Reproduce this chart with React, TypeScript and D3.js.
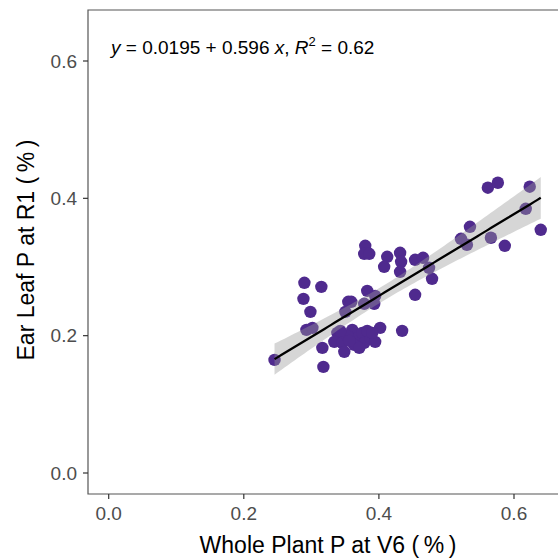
import React from "react";
import * as d3 from "d3";

const wholePlantP: number[] = [
  0.2455, 0.2897, 0.3148, 0.2883, 0.2986, 0.2927, 0.3016, 0.3163, 0.3178,
  0.3547, 0.3503, 0.3798, 0.3783, 0.3857, 0.4123, 0.4078, 0.4314, 0.4329, 0.4314,
  0.4536, 0.4654, 0.4742, 0.4787, 0.3827, 0.3945, 0.3591, 0.3783, 0.3931, 0.4536,
  0.4019, 0.4344,
  0.3385, 0.3340, 0.3458, 0.3488, 0.3606, 0.3680, 0.3754, 0.3783, 0.3872, 0.3945,
  0.3635, 0.3532, 0.3827, 0.3709, 0.3429, 0.3901, 0.3562,
  0.5613, 0.5761, 0.6233, 0.6174, 0.6396, 0.5348, 0.5215, 0.5303, 0.5658, 0.5864,
];
const earLeafP: number[] = [
  0.1647, 0.2770, 0.2711, 0.2536, 0.2347, 0.2085, 0.2114, 0.1822, 0.1545,
  0.2493, 0.2347, 0.3309, 0.3192, 0.3192, 0.3149, 0.3003, 0.3207, 0.3076, 0.2930,
  0.3105, 0.3134, 0.2988, 0.2828, 0.2653, 0.2580, 0.2493, 0.2464, 0.2464, 0.2595,
  0.2114, 0.2070,
  0.2041, 0.1910, 0.1895, 0.1764, 0.2085, 0.1968, 0.2041, 0.1895, 0.1968, 0.1910,
  0.1866, 0.1997, 0.2070, 0.1822, 0.2070, 0.2041, 0.1924,
  0.4155, 0.4227, 0.4169, 0.3848, 0.3542, 0.3586, 0.3411, 0.3324, 0.3426, 0.3309,
];
const fitCoef: number[] = [0.0195, 0.596]; // intercept, slope
const r2Label = "0.62";
const xTicks: number[] = [0.0, 0.2, 0.4, 0.6];
const yTicks: number[] = [0.0, 0.2, 0.4, 0.6];

export default function App() {
  const W = 558, H = 560;
  const panel = { left: 88, top: 10, right: 571, bottom: 494 };
  const x = d3.scaleLinear().domain([0, 0.6]).range([108.7, 514]);
  const y = d3.scaleLinear().domain([0, 0.6]).range([473, 61]);

  const n = wholePlantP.length;
  const xm = d3.mean(wholePlantP) as number;
  const sxx = d3.sum(wholePlantP, (v) => (v - xm) ** 2);
  const pred = (v: number) => fitCoef[0] + fitCoef[1] * v;
  const sse = d3.sum(wholePlantP, (v, i) => (earLeafP[i] - pred(v)) ** 2);
  const s = Math.sqrt(sse / (n - 2));
  const tq = 2.003;
  const [xmin, xmax] = d3.extent(wholePlantP) as [number, number];
  const grid = d3.range(0, 81).map((i) => xmin + ((xmax - xmin) * i) / 80);
  const band = grid.map((v) => {
    const se = s * Math.sqrt(1 / n + (v - xm) ** 2 / sxx);
    return { x: v, lo: pred(v) - tq * se, hi: pred(v) + tq * se, m: pred(v) };
  });
  const area = d3
    .area<any>()
    .x((d) => x(d.x))
    .y0((d) => y(d.lo))
    .y1((d) => y(d.hi))(band) as string;
  const line = d3
    .line<any>()
    .x((d) => x(d.x))
    .y((d) => y(d.m))(band) as string;

  const font = "'Liberation Sans', Arial, sans-serif";
  const tickColor = "#4d4d4d";

  return (
    <svg
      width={W}
      height={H}
      style={{ position: "absolute", left: 0, top: 0, background: "#fff" }}
      fontFamily={font}
    >
      <rect x={0} y={0} width={W} height={H} fill="#fff" />
      {wholePlantP.map((v, i) => (
        <circle key={i} cx={x(v)} cy={y(earLeafP[i])} r={6.2} fill="#4f2a8e" />
      ))}
      <path d={area} fill="#999999" fillOpacity={0.4} />
      <path d={line} fill="none" stroke="#000" strokeWidth={2.3} />

      <text x={111} y={54} fontSize={19} fill="#000">
        <tspan fontStyle="italic">y</tspan>
        <tspan> = 0.0195</tspan>
        <tspan> + </tspan>
        <tspan>0.596 </tspan>
        <tspan fontStyle="italic">x</tspan>
        <tspan>, </tspan>
        <tspan fontStyle="italic">R</tspan>
        <tspan fontSize={13} dy={-8}>2</tspan>
        <tspan dy={8}> = {r2Label}</tspan>
      </text>

      <path
        d={`M${panel.right},${panel.top}H${panel.left}V${panel.bottom}H${panel.right}`}
        fill="none"
        stroke="#555"
        strokeWidth={1.2}
      />
      {xTicks.map((t) => (
        <g key={"x" + t}>
          <line x1={x(t)} x2={x(t)} y1={panel.bottom} y2={panel.bottom + 5} stroke="#333" strokeWidth={1.2} />
          <text x={x(t)} y={520} fontSize={19} fill={tickColor} textAnchor="middle">
            {t.toFixed(1)}
          </text>
        </g>
      ))}
      {yTicks.map((t) => (
        <g key={"y" + t}>
          <line x1={panel.left - 5} x2={panel.left} y1={y(t)} y2={y(t)} stroke="#333" strokeWidth={1.2} />
          <text x={77} y={y(t)} dy="0.35em" fontSize={19} fill={tickColor} textAnchor="end">
            {t.toFixed(1)}
          </text>
        </g>
      ))}
      <text x={328} y={553} fontSize={23} fill="#000" textAnchor="middle">
        Whole Plant P at V6 {"(\u2009%\u2009)"}
      </text>
      <text
        transform={`translate(34,250) rotate(-90)`}
        fontSize={23}
        fill="#000"
        textAnchor="middle"
      >
        Ear Leaf P at R1 {"(\u2009%\u2009)"}
      </text>
    </svg>
  );
}
